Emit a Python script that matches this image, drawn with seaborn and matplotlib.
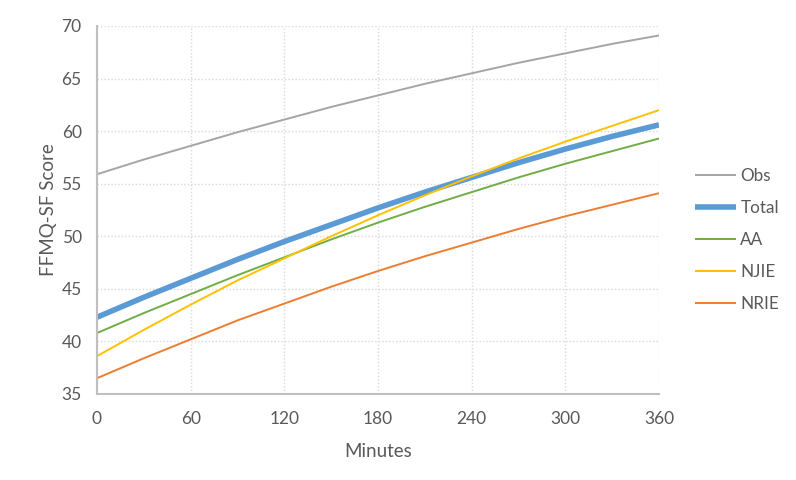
import matplotlib
matplotlib.use("Agg")
import matplotlib.pyplot as plt
import seaborn as sns
import pandas as pd


# ============================================================
# DATA
# ============================================================
minutes = [0, 30, 60, 90, 120, 150, 180, 210, 240, 270, 300, 330, 360]

obs = [55.9, 57.3, 58.6, 59.9, 61.1, 62.3, 63.4, 64.5, 65.5, 66.5, 67.4, 68.3, 69.1]
total = [42.3, 44.2, 46.0, 47.8, 49.5, 51.1, 52.7, 54.2, 55.6, 57.0, 58.3, 59.5, 60.6]
aa = [40.8, 42.7, 44.5, 46.3, 48.0, 49.7, 51.3, 52.8, 54.2, 55.6, 56.9, 58.1, 59.3]
njie = [38.6, 41.1, 43.5, 45.8, 47.9, 50.0, 52.0, 53.9, 55.7, 57.4, 59.0, 60.5, 62.0]
nrie = [36.5, 38.4, 40.2, 42.0, 43.6, 45.2, 46.7, 48.1, 49.4, 50.7, 51.9, 53.0, 54.1]

series_names = ["Obs", "Total", "AA", "NJIE", "NRIE"]
series_values = [obs, total, aa, njie, nrie]

x_ticks = [0, 60, 120, 180, 240, 300, 360]
y_ticks = [35, 40, 45, 50, 55, 60, 65, 70]

# Office paleta
colors = {"Obs": "#A5A5A5", "Total": "#5B9BD5", "AA": "#70AD47",
          "NJIE": "#FFC000", "NRIE": "#ED7D31"}
widths = {"Obs": 1.4, "Total": 4.0, "AA": 1.4, "NJIE": 1.4, "NRIE": 1.4}


# ============================================================
# PLOT
# ============================================================
sns.set_style("white")
plt.rcParams["font.family"] = ["Lato", "DejaVu Sans"]

df = pd.DataFrame({"Minutes": minutes})
for name, vals in zip(series_names, series_values):
    df[name] = vals
long_df = df.melt(id_vars="Minutes", var_name="series", value_name="score")

fig = plt.figure(figsize=(7.96, 4.8), dpi=100)
ax = fig.add_axes([97 / 796, 1 - 394 / 480, (659 - 97) / 796, (394 - 26) / 480])

for name in series_names:
    sub = long_df[long_df["series"] == name]
    sns.lineplot(data=sub, x="Minutes", y="score", ax=ax,
                 color=colors[name], linewidth=widths[name], label=name,
                 solid_capstyle="butt")

ax.set_xlim(0, 360)
ax.set_ylim(35, 70)
ax.set_xticks(x_ticks)
ax.set_yticks(y_ticks)

# isprekidana mreza
ax.grid(True, color="#D9D9D9", linestyle=(0, (1, 1.5)), linewidth=1.0)
ax.set_axisbelow(True)

for side in ["top", "right"]:
    ax.spines[side].set_visible(False)
for side in ["left", "bottom"]:
    ax.spines[side].set_color("#BFBFBF")
    ax.spines[side].set_linewidth(1.5)

ax.tick_params(axis="x", length=0, labelsize=12.5, labelcolor="#595959", pad=12)
ax.tick_params(axis="y", length=0, labelsize=12.5, labelcolor="#595959", pad=11)
ax.set_xlabel("Minutes", fontsize=13.5, color="#595959", labelpad=12)
ax.set_ylabel("FFMQ-SF Score", fontsize=13.5, color="#595959", labelpad=3)

ax.legend(loc="center left", bbox_to_anchor=(695 / 796, 1 - 240 / 480),
          bbox_transform=fig.transFigure, frameon=False, fontsize=12.3,
          labelcolor="#595959", handlelength=2.4, handletextpad=0.25,
          labelspacing=0.95, borderpad=0, borderaxespad=0)

plt.savefig("out.png", dpi=100)
plt.close()
